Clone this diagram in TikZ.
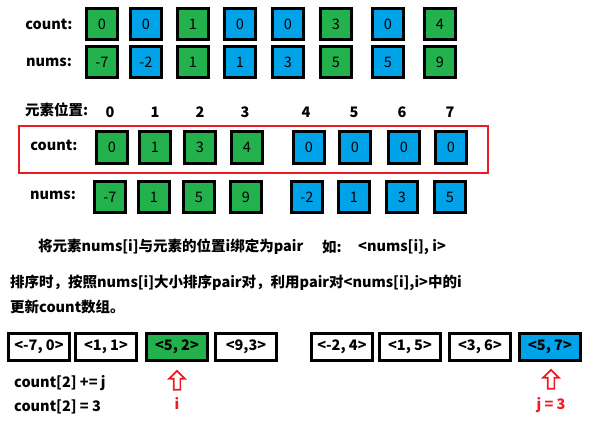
\documentclass[tikz,border=0pt]{standalone}
\usepackage{fontspec}
\setmainfont{Noto Sans CJK SC}
\usetikzlibrary{shapes.arrows}
\definecolor{pgreen}{HTML}{22B14C}
\definecolor{pblue}{HTML}{00A2E8}
\definecolor{pred}{HTML}{ED1C24}
\tikzset{
  cell/.style={draw=black, line width=3pt, minimum width=31.5pt, minimum height=31.5pt, inner sep=0pt, font=\fontsize{14.5}{14}\selectfont},
  pairbox/.style={draw=black, line width=3pt, minimum width=61pt, minimum height=27pt, inner sep=0pt, font=\bfseries\fontsize{14.5}{14}\selectfont},
  lbl/.style={font=\bfseries\fontsize{14.5}{15}\selectfont, inner sep=0pt},
  upmark/.style={single arrow, draw=pred, line width=1.7pt, shape border rotate=90, minimum height=19pt, inner sep=2.5pt, single arrow head extend=4.5pt, single arrow head indent=0pt}
}
\begin{document}
\begin{tikzpicture}[x=1pt,y=-1pt]
  \useasboundingbox (0,0) rectangle (592,437);
  % first view: count and nums side by side
  \node[lbl] (topcount) at (49,24) {count:};
  \node[lbl] (topnums) at (49,62) {nums:};
  \foreach \x/\c/\n/\col [count=\k] in {102/0/-7/pgreen,146/0/-2/pblue,193/1/1/pgreen,240/0/1/pblue,288/0/3/pblue,336/3/5/pgreen,388/0/5/pblue,440/4/9/pgreen}
    {\node[cell, fill=\col] (tc\k) at (\x,24) {\c};
     \node[cell, fill=\col] (tn\k) at (\x,62) {\n};}
  % second view: sorted by position
  \node[lbl, anchor=west] (pos) at (25,110) {元素位置:};
  \foreach \x [count=\k from 0] in {110,155,200,245,306,354,402,450}
    \node[lbl] (idx\k) at (\x,112) {\k};
  \draw[pred, line width=2pt] (19,126) rectangle (488,173);
  \node[lbl] (midcount) at (54,145) {count:};
  \node[lbl] (midnums) at (53,195) {nums:};
  \foreach \x/\c/\col [count=\k] in {112/0/pgreen,155/1/pgreen,200/3/pgreen,247/4/pgreen,309/0/pblue,355/0/pblue,404/0/pblue,451/0/pblue}
    \node[cell, fill=\col] (mc\k) at (\x,147.5) {\c};
  \foreach \x/\n/\col [count=\k] in {110/-7/pgreen,154/1/pgreen,199/5/pgreen,246/9/pgreen,307/-2/pblue,354/1/pblue,402/3/pblue,450/5/pblue}
    \node[cell, fill=\col] (mn\k) at (\x,197) {\n};
  % explanation
  \node[lbl, anchor=west] (line1) at (38,247) {将元素nums[i]与元素的位置i绑定为pair};
  \node[lbl, anchor=west] (ru) at (322,247) {如:};
  \node[lbl, anchor=west] (pairex) at (358,247) {<nums[i], i>};
  \node[lbl, anchor=west] (line2) at (10,283) {排序时，按照nums[i]大小排序pair对，利用pair对<nums[i],i>中的i};
  \node[lbl, anchor=west] (line3) at (10,307) {更新count数组。};
  % pairs after sorting
  \foreach \x/\p/\col [count=\k] in {39/{<-7, 0>}/white,106/{<1, 1>}/white,177/{<5, 2>}/pgreen,246/{<9,3>}/white,342/{<-2, 4>}/white,410/{<1, 5>}/white,480/{<3, 6>}/white,550/{<5, 7>}/pblue}
    \node[pairbox, fill=\col] (pr\k) at (\x,347) {\p};
  \node[upmark] (ai) at (177,382) {};
  \node[lbl, text=pred] (ilbl) at (177,403) {i};
  \node[upmark] (aj) at (551,381) {};
  \node[lbl, text=pred] (jlbl) at (551,405) {j = 3};
  \node[lbl, anchor=west] (upd) at (14,383) {count[2] += j};
  \node[lbl, anchor=west] (res) at (14,407) {count[2] = 3};
\end{tikzpicture}
\end{document}
